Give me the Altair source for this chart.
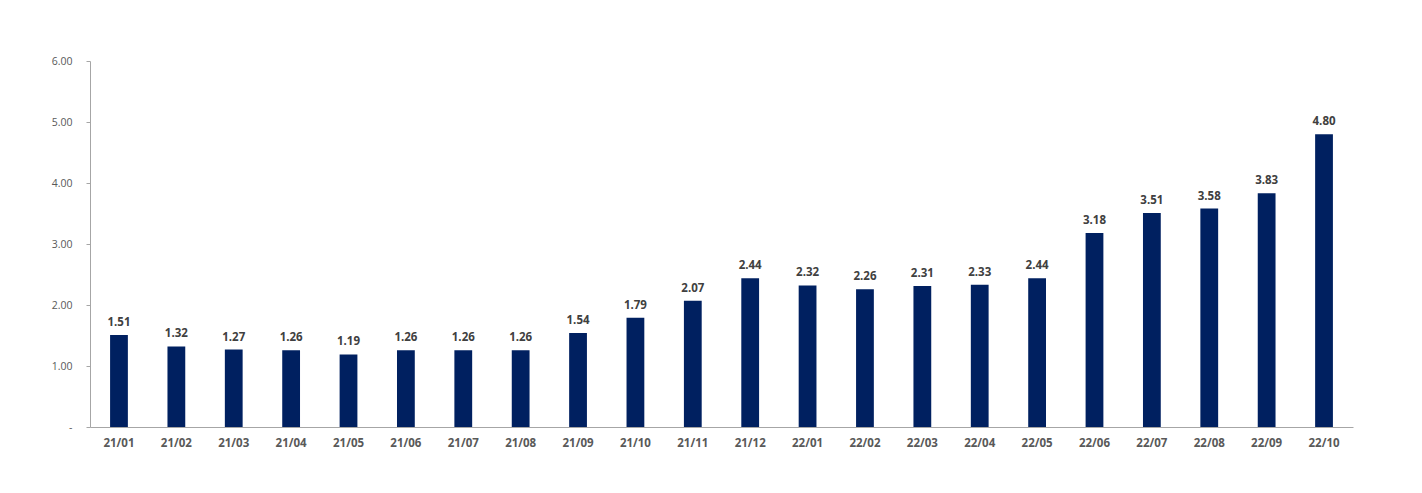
import altair as alt
import pandas as pd

months = ["21/01", "21/02", "21/03", "21/04", "21/05", "21/06", "21/07", "21/08",
          "21/09", "21/10", "21/11", "21/12", "22/01", "22/02", "22/03", "22/04",
          "22/05", "22/06", "22/07", "22/08", "22/09", "22/10"]
values = [1.51, 1.32, 1.27, 1.26, 1.19, 1.26, 1.26, 1.26, 1.54, 1.79, 2.07, 2.44,
          2.32, 2.26, 2.31, 2.33, 2.44, 3.18, 3.51, 3.58, 3.83, 4.80]
y_ticks = [0, 1, 2, 3, 4, 5, 6]

df = pd.DataFrame({"month": months, "value": values})

FONT = "Open Sans"

x_enc = alt.X("month:N", sort=months, title=None,
              scale=alt.Scale(paddingInner=0.69, paddingOuter=0.35),
              axis=alt.Axis(labelAngle=0, ticks=False, domainColor="#a6a6a6",
                            labelColor="#595959", labelFont=FONT, labelFontSize=11.5,
                            labelFontWeight="bold", labelPadding=10))

bars = alt.Chart(df).mark_bar(color="#002060").encode(
    x=x_enc,
    y=alt.Y("value:Q", title=None,
            scale=alt.Scale(domain=[0, 6], nice=False),
            axis=alt.Axis(values=y_ticks, grid=False, domainColor="#a6a6a6",
                          tickColor="#a6a6a6", tickSize=4,
                          labelColor="#595959", labelFont=FONT, labelFontSize=10.5,
                          labelPadding=14,
                          labelExpr="datum.value == 0 ? '-' : format(datum.value, '.2f')")),
)

labels = alt.Chart(df).mark_text(baseline="bottom", dy=-7, font=FONT, fontSize=11.5,
                                 fontWeight="bold", color="#404040").encode(
    x=alt.X("month:N", sort=months),
    y=alt.Y("value:Q"),
    text=alt.Text("value:Q", format=".2f"),
)

chart = (bars + labels).properties(
    width=1263, height=366,
    background="white",
    autosize=alt.AutoSizeParams(type="none"),
    padding={"left": 82, "top": 53, "right": 60, "bottom": 60},
).configure_view(strokeWidth=0, stroke="transparent")

chart.save("out.html", embed_options={"renderer": "svg", "actions": False})
